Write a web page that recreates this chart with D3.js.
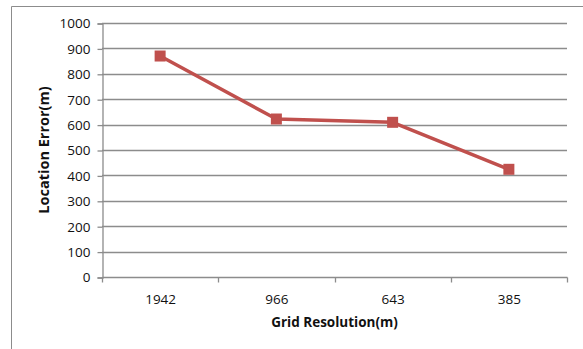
<!DOCTYPE html>
<html>
<head>
<meta charset="utf-8">
<script src="https://cdn.jsdelivr.net/npm/d3@7"></script>
<style>
  html, body { margin: 0; padding: 0; background: #fff; }
  svg { display: block; }
  text { font-family: "Open Sans", "Liberation Sans", sans-serif; fill: #111; }
</style>
</head>
<body>
<svg id="chart" width="583" height="349"></svg>
<script>
// Location error versus grid resolution
const categories = ["1942", "966", "643", "385"];
const errorValues = [870, 622, 609, 424];
const yTicks = [0, 100, 200, 300, 400, 500, 600, 700, 800, 900, 1000];
const xTitle = "Grid Resolution(m)";
const yTitle = "Location Error(m)";

const svg = d3.select("#chart");
const plot = { left: 102, right: 567, top: 23, bottom: 277 };
const lineColor = "#C0504D";
const gridColor = "#8c8c8c";

// chart frame
svg.append("path")
  .attr("d", "M11.5,349 V6.5 H583")
  .attr("fill", "none")
  .attr("stroke", "#8c8c8c")
  .attr("stroke-width", 1);

const x = d3.scaleBand().domain(categories).range([plot.left, plot.right]).paddingInner(0).paddingOuter(0);
const y = d3.scaleLinear().domain([0, 1000]).range([plot.bottom, plot.top]);

// horizontal gridlines
svg.append("g")
  .selectAll("line")
  .data(yTicks.filter(d => d > 0))
  .join("line")
  .attr("x1", plot.left).attr("x2", plot.right)
  .attr("y1", d => Math.round(y(d)) + 0.5).attr("y2", d => Math.round(y(d)) + 0.5)
  .attr("stroke", gridColor).attr("stroke-width", 1.3);

// y axis
const yAxis = svg.append("g")
  .attr("transform", `translate(${plot.left + 0.5},0.5)`)
  .call(d3.axisLeft(y).tickValues(yTicks).tickFormat(d3.format("d")).tickSize(5).tickPadding(7));
yAxis.select(".domain").attr("stroke", gridColor).attr("stroke-width", 1.3);
yAxis.selectAll(".tick line").attr("stroke", gridColor).attr("stroke-width", 1.3);
yAxis.selectAll(".tick text").style("font-size", "13.5px").attr("fill", "#111");

// x axis with tick marks at category boundaries
const xAxisG = svg.append("g")
  .attr("transform", `translate(0.5,${plot.bottom + 0.5})`);
xAxisG.append("line")
  .attr("x1", plot.left).attr("x2", plot.right)
  .attr("stroke", gridColor).attr("stroke-width", 1.3);
const bounds = categories.map(c => x(c)).concat([x(categories[categories.length - 1]) + x.bandwidth()]);
xAxisG.selectAll("line.tk")
  .data(bounds)
  .join("line").attr("class", "tk")
  .attr("x1", d => Math.round(d)).attr("x2", d => Math.round(d))
  .attr("y1", 0).attr("y2", 5)
  .attr("stroke", gridColor).attr("stroke-width", 1.3);
xAxisG.selectAll("text")
  .data(categories)
  .join("text")
  .attr("x", d => x(d) + x.bandwidth() / 2)
  .attr("y", 26)
  .attr("text-anchor", "middle")
  .style("font-size", "13.5px")
  .text(d => d);

// series line
const cx = d => x(d) + x.bandwidth() / 2;
svg.append("path")
  .datum(categories.map((c, i) => [cx(c), y(errorValues[i])]))
  .attr("d", d3.line())
  .attr("fill", "none")
  .attr("stroke", lineColor)
  .attr("stroke-width", 3.5)
  .attr("stroke-linejoin", "round");

// square markers
const m = 11;
svg.append("g")
  .selectAll("rect")
  .data(categories)
  .join("rect")
  .attr("x", d => cx(d) - m / 2)
  .attr("y", (d, i) => y(errorValues[i]) - m / 2)
  .attr("width", m).attr("height", m)
  .attr("fill", lineColor);

// axis titles
svg.append("text")
  .attr("x", (plot.left + plot.right) / 2)
  .attr("y", 327)
  .attr("text-anchor", "middle")
  .style("font-size", "13.5px").style("font-weight", "bold")
  .text(xTitle);

svg.append("text")
  .attr("transform", `translate(49,${(plot.top + plot.bottom) / 2}) rotate(-90)`)
  .attr("text-anchor", "middle")
  .style("font-size", "14.5px").style("font-weight", "bold")
  .text(yTitle);
</script>
</body>
</html>
